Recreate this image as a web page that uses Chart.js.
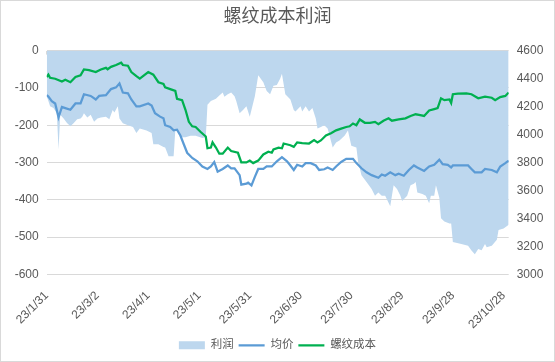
<!DOCTYPE html>
<html lang="zh-CN">
<head>
<meta charset="UTF-8">
<title>螺纹成本利润</title>
<script src="https://cdn.jsdelivr.net/npm/chart.js@4"></script>
<style>
  html, body { margin: 0; padding: 0; background: #fff; }
  #wrap { width: 555px; height: 362px; box-sizing: border-box; border: 1px solid #d9d9d9; }
  canvas { display: block; }
</style>
</head>
<body>
<div id="wrap"><canvas id="chart" width="553" height="360"></canvas></div>
<script>
// day offsets counted from 23/1/31
const profitDays = [0,1,2,4,6,7,8,10,12,14,16,18,20,21,22,24,26,28,30,32,35,37,39,40,42,43,45,48,51,53,55,59,62,63,66,69,70,72,75,76,78,80,82,85,88,92,94,95,97,100,102,104,105,107,109,111,112,114,116,118,120,123,125,128,130,132,134,136,138,139,141,144,146,147,150,151,153,155,157,159,160,162,164,166,169,171,173,176,178,180,183,184,186,189,192,194,196,198,200,203,204,205,207,209,210,213,215,217,218,219,222,224,226,227,229,230,232,233,235,238,239,240,245,249,251,253,255,257,259,260,263,266,267,270,273];
const profit = [-122,-135,-149,-154,-168,-265,-172,-182,-194,-203,-194,-184,-182,-177,-168,-179,-172,-191,-182,-179,-177,-184,-159,-166,-149,-182,-195,-200,-205,-221,-209,-214,-221,-251,-251,-258,-260,-283,-283,-214,-218,-232,-232,-228,-228,-234,-232,-145,-135,-129,-120,-112,-124,-117,-112,-122,-135,-168,-159,-149,-177,-122,-66,-85,-108,-117,-94,-92,-75,-62,-117,-131,-159,-163,-149,-163,-149,-163,-154,-182,-209,-205,-200,-209,-260,-246,-241,-228,-214,-255,-260,-297,-334,-352,-371,-389,-380,-389,-389,-417,-389,-361,-371,-389,-403,-389,-361,-357,-352,-380,-384,-389,-409,-389,-389,-361,-394,-449,-458,-463,-463,-513,-518,-523,-536,-546,-532,-535,-518,-527,-523,-507,-481,-477,-467];

const priceDays = [0,1,3,5,7,9,11,14,17,20,22,26,29,31,35,38,41,43,45,48,50,53,55,60,62,64,67,69,70,73,75,77,79,81,83,86,89,92,95,97,99,101,104,107,109,111,114,115,118,119,121,123,125,128,130,133,136,139,142,144,146,148,151,153,156,159,161,164,166,169,171,174,177,181,183,186,189,192,196,198,200,203,206,208,211,214,217,219,223,226,229,232,234,237,239,240,244,249,251,253,257,259,263,266,268,271,273];
const price = [4281,4271,4239,4222,4123,4197,4189,4177,4222,4222,4288,4276,4251,4276,4281,4325,4337,4366,4300,4295,4251,4202,4202,4222,4207,4153,4128,4116,4067,4054,4030,4035,3993,3931,3870,3833,3809,3772,3754,3772,3804,3735,3754,3779,3759,3759,3710,3642,3649,3656,3637,3698,3754,3754,3772,3772,3809,3838,3809,3779,3747,3784,3772,3796,3796,3779,3747,3752,3765,3747,3772,3804,3826,3826,3796,3759,3730,3710,3691,3715,3706,3730,3710,3720,3706,3747,3779,3765,3740,3772,3784,3821,3789,3784,3765,3779,3779,3779,3754,3730,3730,3754,3747,3730,3772,3796,3814];

const costDays = [0,1,2,5,9,11,14,17,20,22,25,29,32,35,36,38,41,44,45,48,50,53,55,60,63,66,69,70,73,76,77,80,82,84,86,88,91,94,95,97,98,100,102,104,107,109,113,115,118,120,122,125,128,131,133,134,137,139,140,144,146,148,151,155,158,160,162,165,168,171,174,177,179,181,183,185,188,191,194,196,199,202,204,208,212,215,218,220,223,226,229,231,233,235,238,239,240,243,248,251,255,259,263,265,268,271,273];
const cost = [4411,4428,4406,4399,4379,4391,4374,4411,4423,4465,4460,4447,4465,4477,4467,4484,4497,4514,4497,4492,4447,4418,4400,4447,4428,4374,4362,4337,4325,4312,4256,4246,4177,4091,4059,4054,4018,3986,3902,3907,3944,3907,3863,3863,3907,3882,3870,3801,3801,3814,3796,3814,3858,3877,3870,3894,3907,3902,3936,3924,3912,3944,3939,3936,3961,3944,3958,3993,4010,4030,4042,4054,4059,4079,4067,4108,4084,4084,4091,4074,4099,4116,4099,4108,4116,4133,4145,4141,4133,4172,4182,4189,4259,4246,4251,4226,4288,4293,4295,4288,4259,4271,4263,4246,4268,4276,4300];

const tickDays = [0,30,60,90,120,150,180,210,240,270];
const leftTicks = [-600,-500,-400,-300,-200,-100,0];
const rightTicks = [3000,3200,3400,3600,3800,4000,4200,4400,4600];

const START = Date.UTC(2023, 0, 31);
function dayLabel(n) {
  const d = new Date(START + n * 86400000);
  return (d.getUTCFullYear() % 100) + '/' + (d.getUTCMonth() + 1) + '/' + d.getUTCDate();
}
const pts = (xs, ys) => xs.map((x, i) => ({ x, y: ys[i] }));

const FONT = '"Liberation Sans", "Noto Sans CJK SC", sans-serif';
const GREY = '#595959';

new Chart(document.getElementById('chart'), {
  type: 'line',
  data: {
    datasets: [
      { label: '利润', data: pts(profitDays, profit), yAxisID: 'y', xAxisID: 'x',
        fill: 'origin', backgroundColor: '#BDD7EE', borderWidth: 0, pointRadius: 0, order: 3 },
      { label: '均价', data: pts(priceDays, price), yAxisID: 'y1', xAxisID: 'x',
        fill: false, borderColor: '#5B9BD5', borderWidth: 2.25, pointRadius: 0, order: 2 },
      { label: '螺纹成本', data: pts(costDays, cost), yAxisID: 'y1', xAxisID: 'x',
        fill: false, borderColor: '#00B050', borderWidth: 2.25, pointRadius: 0, order: 1 }
    ]
  },
  options: {
    responsive: false,
    animation: false,
    layout: { padding: 0 },
    elements: { line: { tension: 0 } },
    plugins: {
      tooltip: { enabled: false },
      title: {
        display: true, text: '螺纹成本利润', color: GREY,
        font: { family: FONT, size: 18, weight: 'normal' },
        padding: { top: 5, bottom: 23 }
      },
      legend: {
        position: 'bottom',
        labels: {
          color: GREY, font: { family: FONT, size: 11.5 },
          usePointStyle: true, pointStyleWidth: 26, boxHeight: 8, padding: 5,
          generateLabels: () => [
            { text: '利润', pointStyle: 'rect', fillStyle: '#BDD7EE', strokeStyle: '#BDD7EE', lineWidth: 0, fontColor: GREY },
            { text: '均价', pointStyle: 'line', fillStyle: '#5B9BD5', strokeStyle: '#5B9BD5', lineWidth: 2.25, fontColor: GREY },
            { text: '螺纹成本', pointStyle: 'line', fillStyle: '#00B050', strokeStyle: '#00B050', lineWidth: 2.25, fontColor: GREY }
          ]
        }
      }
    },
    scales: {
      x: {
        type: 'linear', position: 'bottom', min: 0, max: 273,
        afterBuildTicks: s => { s.ticks = tickDays.map(v => ({ value: v })); },
        ticks: { autoSkip: false, minRotation: 45, maxRotation: 45, padding: 6, color: GREY,
                 font: { family: FONT, size: 12 }, callback: v => dayLabel(v) },
        grid: { display: false }, border: { display: false },
        afterFit: s => { s.height = 60; }
      },
      xTop: {
        type: 'linear', position: 'top', min: 0, max: 273, z: 1,
        afterBuildTicks: s => { s.ticks = tickDays.map(v => ({ value: v })); },
        ticks: { display: false },
        grid: { drawOnChartArea: false, tickLength: -4, color: '#d9d9d9' },
        border: { display: false },
        afterFit: s => { s.height = 0; }
      },
      y: {
        position: 'left', min: -600, max: 0,
        afterBuildTicks: s => { s.ticks = leftTicks.map(v => ({ value: v })); },
        ticks: { padding: 8, color: GREY, font: { family: FONT, size: 12 }, callback: v => String(v) },
        grid: { color: '#d9d9d9', drawTicks: false }, border: { display: false },
        afterFit: s => { s.width = 45.7; }
      },
      y1: {
        position: 'right', min: 3000, max: 4600,
        afterBuildTicks: s => { s.ticks = rightTicks.map(v => ({ value: v })); },
        ticks: { padding: 8, color: GREY, font: { family: FONT, size: 12 }, callback: v => String(v) },
        grid: { display: false, drawTicks: false }, border: { display: false },
        afterFit: s => { s.width = 45.3; }
      }
    }
  }
});
</script>
</body>
</html>
